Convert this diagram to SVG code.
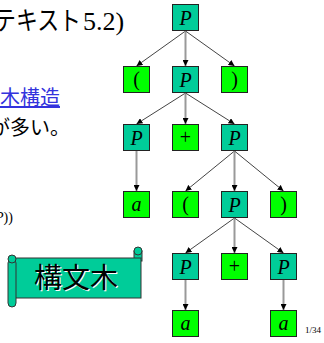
<svg xmlns="http://www.w3.org/2000/svg" width="324" height="343" viewBox="0 0 324 343">
<defs>
<marker id="ah" markerUnits="userSpaceOnUse" markerWidth="6" markerHeight="6" refX="6" refY="3" orient="auto">
<path d="M0,0 L6,3 L0,6 z" fill="#000"/>
</marker>
</defs>
<style>
.nt{fill:#00CC99;stroke:#222;stroke-width:1}
.t{fill:#00FF00;stroke:#222;stroke-width:1}
.lb{font-family:"Liberation Serif",serif;font-size:20px;fill:#000;text-anchor:middle}
.it{font-style:italic}
.d{stroke:#444;stroke-width:1;fill:none;marker-end:url(#ah)}
.v{stroke:#999;stroke-width:2;fill:none;marker-end:url(#ah)}
.jp{font-family:"Noto Sans CJK JP","Noto Sans",sans-serif;fill:#000}
.sf{font-family:"Liberation Serif",serif;fill:#000}
</style>
<rect width="324" height="343" fill="#fff"/>
<text y="30" font-size="26" class="jp"><tspan x="-6" textLength="87" lengthAdjust="spacingAndGlyphs">テキスト</tspan><tspan x="83" font-family="Liberation Serif, serif">5.2)</tspan></text>
<text x="0" y="105" font-size="20" class="jp" style="fill:#3333dd;text-decoration:underline">木構造</text>
<text x="-10" y="135" font-size="20" class="jp">が多い。</text>
<text x="-5" y="222" font-size="14" class="sf"><tspan font-style="italic">P</tspan>))</text>
<g id="scroll">
<rect x="134" y="251" width="8" height="10" fill="#00CC99" stroke="#333" stroke-width="1"/>
<circle cx="138" cy="251" r="4" fill="#00CC99" stroke="#333" stroke-width="1"/>
<rect x="14" y="258" width="127" height="40" fill="#00CC99" stroke="#333" stroke-width="1"/>
<rect x="8" y="259" width="8" height="48" rx="4" fill="#00CC99" stroke="#333" stroke-width="1"/>
<circle cx="12" cy="259" r="4" fill="#00CC99" stroke="#333" stroke-width="1"/>
<text x="77" y="289" font-size="28" text-anchor="middle" class="jp" style="fill:#fff">構文木</text>
<text x="76" y="288" font-size="28" text-anchor="middle" class="jp">構文木</text>
</g>
<g id="connectors">
<line class="d" x1="185.5" y1="31" x2="136.5" y2="66"/>
<line class="v" x1="185.5" y1="31" x2="185.5" y2="66"/>
<line class="d" x1="185.5" y1="31" x2="234.5" y2="66"/>
<line class="d" x1="185.5" y1="93" x2="136.5" y2="124"/>
<line class="v" x1="185.5" y1="93" x2="185.5" y2="124"/>
<line class="d" x1="185.5" y1="93" x2="234.5" y2="124"/>
<line class="v" x1="136.5" y1="151" x2="136.5" y2="191"/>
<line class="d" x1="234.5" y1="151" x2="185.5" y2="191"/>
<line class="v" x1="234.5" y1="151" x2="234.5" y2="191"/>
<line class="d" x1="234.5" y1="151" x2="283.5" y2="191"/>
<line class="d" x1="234.5" y1="218" x2="185.5" y2="253"/>
<line class="v" x1="234.5" y1="218" x2="234.5" y2="253"/>
<line class="d" x1="234.5" y1="218" x2="283.5" y2="253"/>
<line class="v" x1="185.5" y1="280" x2="185.5" y2="310"/>
<line class="v" x1="283.5" y1="280" x2="283.5" y2="310"/>
</g>
<g id="n1"><rect class="nt" x="172.5" y="4.5" width="26" height="26"/><text class="lb it" x="185.5" y="25">P</text></g>
<g id="n2"><rect class="t" x="123.5" y="66.5" width="26" height="26"/><text class="lb" x="136.5" y="86">(</text></g>
<g id="n3"><rect class="nt" x="172.5" y="66.5" width="26" height="26"/><text class="lb it" x="185.5" y="87">P</text></g>
<g id="n4"><rect class="t" x="221.5" y="66.5" width="26" height="26"/><text class="lb" x="234.5" y="86">)</text></g>
<g id="n5"><rect class="nt" x="123.5" y="124.5" width="26" height="26"/><text class="lb it" x="136.5" y="145">P</text></g>
<g id="n6"><rect class="t" x="172.5" y="124.5" width="26" height="26"/><text class="lb" x="185.5" y="144">+</text></g>
<g id="n7"><rect class="nt" x="221.5" y="124.5" width="26" height="26"/><text class="lb it" x="234.5" y="145">P</text></g>
<g id="n8"><rect class="t" x="123.5" y="191.5" width="26" height="26"/><text class="lb it" x="136.5" y="211">a</text></g>
<g id="n9"><rect class="t" x="172.5" y="191.5" width="26" height="26"/><text class="lb" x="185.5" y="211">(</text></g>
<g id="n10"><rect class="nt" x="221.5" y="191.5" width="26" height="26"/><text class="lb it" x="234.5" y="212">P</text></g>
<g id="n11"><rect class="t" x="270.5" y="191.5" width="26" height="26"/><text class="lb" x="283.5" y="211">)</text></g>
<g id="n12"><rect class="nt" x="172.5" y="253.5" width="26" height="26"/><text class="lb it" x="185.5" y="274">P</text></g>
<g id="n13"><rect class="t" x="221.5" y="253.5" width="26" height="26"/><text class="lb" x="234.5" y="273">+</text></g>
<g id="n14"><rect class="nt" x="270.5" y="253.5" width="26" height="26"/><text class="lb it" x="283.5" y="274">P</text></g>
<g id="n15"><rect class="t" x="172.5" y="310.5" width="26" height="26"/><text class="lb it" x="185.5" y="330">a</text></g>
<g id="n16"><rect class="t" x="270.5" y="310.5" width="26" height="26"/><text class="lb it" x="283.5" y="330">a</text></g>
<text x="305" y="333" font-family="Liberation Serif, serif" font-size="9" fill="#000">1/34</text>
</svg>
